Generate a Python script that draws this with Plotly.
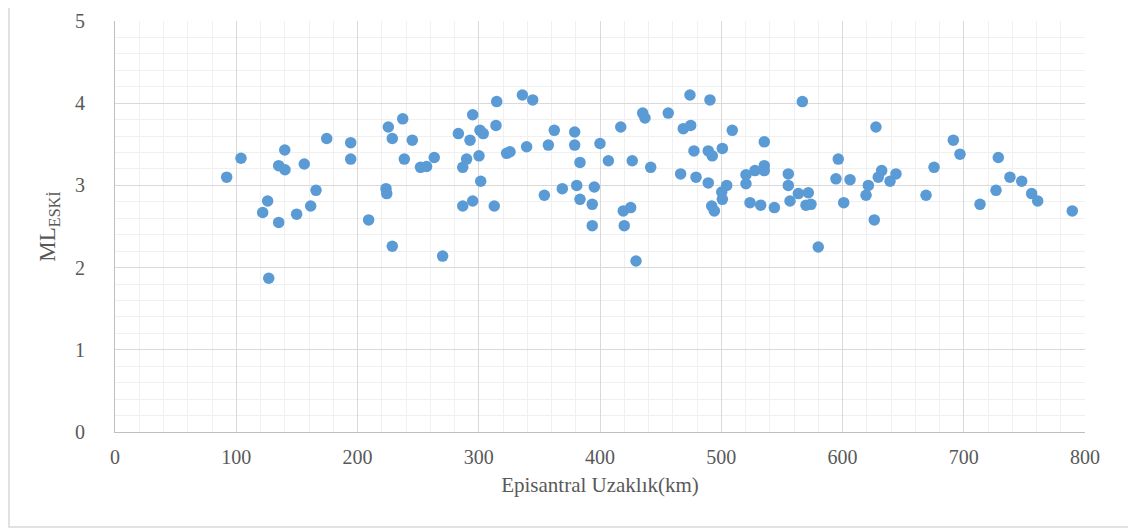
import plotly.graph_objects as go

# Epicentral distance (km) and ML_ESKİ values
distance_km = [
    92.1, 103.9, 140.0, 135.0, 140.2, 156.1, 174.6, 194.4, 194.4, 165.8, 125.9, 121.8, 135.0,
    149.8, 161.4, 209.2, 126.8,
    225.4, 237.3, 228.7, 245.2, 223.5, 224.1, 238.6, 252.0, 257.0, 263.3, 228.7, 270.2, 283.2,
    295.0, 292.8, 301.0, 303.7, 314.8, 314.2, 290.0, 286.8, 300.2, 301.6, 286.8, 295.0, 312.8,
    336.0, 344.5, 325.8, 323.0, 339.5, 362.3, 357.4, 379.1, 379.1, 383.5, 354.1, 368.9, 380.8,
    395.3, 383.5, 393.6, 393.6, 400.0, 406.9, 417.1, 426.6, 441.8, 435.2, 437.1, 456.3, 419.2,
    425.3, 420.0, 429.7,
    474.2, 490.7, 468.7, 474.8, 509.1, 477.5, 489.3, 492.6, 500.9, 466.5, 479.2, 489.3, 504.5,
    500.4, 500.9, 492.1, 494.3, 535.5, 520.4, 520.4, 527.8, 535.5, 535.5, 523.7, 532.5, 543.8,
    566.9, 555.3, 555.3, 556.7, 563.6, 571.8, 569.9, 574.0, 580.0, 596.5, 594.6, 606.2, 601.0,
    627.6, 632.3, 629.5, 621.3, 619.4, 639.2, 644.1, 626.2, 668.9, 675.5, 691.4, 696.9, 728.5,
    726.6, 713.4, 738.1, 747.8, 756.0, 761.0, 789.5,
]
ml_eski = [
    3.10, 3.33, 3.43, 3.24, 3.19, 3.26, 3.57, 3.52, 3.32, 2.94, 2.81, 2.67, 2.55,
    2.65, 2.75, 2.58, 1.87,
    3.71, 3.81, 3.57, 3.55, 2.96, 2.90, 3.32, 3.22, 3.23, 3.34, 2.26, 2.14, 3.63,
    3.86, 3.55, 3.67, 3.63, 4.02, 3.73, 3.32, 3.22, 3.36, 3.05, 2.75, 2.81, 2.75,
    4.10, 4.04, 3.41, 3.39, 3.47, 3.67, 3.49, 3.65, 3.49, 3.28, 2.88, 2.96, 3.00,
    2.98, 2.83, 2.77, 2.51, 3.51, 3.30, 3.71, 3.30, 3.22, 3.88, 3.82, 3.88, 2.69,
    2.73, 2.51, 2.08,
    4.10, 4.04, 3.69, 3.73, 3.67, 3.42, 3.42, 3.36, 3.45, 3.14, 3.10, 3.03, 3.00,
    2.92, 2.83, 2.75, 2.69, 3.53, 3.13, 3.02, 3.18, 3.24, 3.18, 2.79, 2.76, 2.73,
    4.02, 3.14, 3.00, 2.81, 2.90, 2.91, 2.76, 2.77, 2.25, 3.32, 3.08, 3.07, 2.79,
    3.71, 3.18, 3.10, 3.00, 2.88, 3.05, 3.14, 2.58, 2.88, 3.22, 3.55, 3.38, 3.34,
    2.94, 2.77, 3.10, 3.05, 2.90, 2.81, 2.69,
]

x_ticks = [0, 100, 200, 300, 400, 500, 600, 700, 800]
y_ticks = [0, 1, 2, 3, 4, 5]

FONT = "Liberation Serif"
TEXT = "#595959"
MAJOR = "#D9D9D9"
MINOR = "#F0F0F0"

fig = go.Figure()
fig.add_trace(go.Scatter(
    x=distance_km, y=ml_eski, mode="markers",
    marker=dict(color="#5B9BD5", size=11.5, line=dict(width=0)),
    showlegend=False, hoverinfo="x+y",
))

# the page body adds an 8px offset, so the figure is sized to fit the window
fig.update_layout(
    width=1128, height=523,
    margin=dict(l=107, r=51, t=13, b=99, autoexpand=False),
    paper_bgcolor="white", plot_bgcolor="white",
    font=dict(family=FONT, color=TEXT, size=20),
    shapes=[dict(type="rect", xref="paper", yref="paper",
                 x0=-0.1093, x1=1.0485, y0=-0.2311, y1=1.1,
                 line=dict(color="#D9D9D9", width=1.5), layer="below")],
)
fig.update_xaxes(
    range=[0, 800], tickvals=x_ticks, ticktext=[str(v) for v in x_ticks],
    automargin=False,
    showgrid=True, gridcolor=MAJOR, gridwidth=1,
    minor=dict(dtick=20, showgrid=True, gridcolor=MINOR, gridwidth=1),
    showline=True, linecolor="#BFBFBF", linewidth=1, mirror=False,
    zeroline=False, ticks="", ticklabelstandoff=7,
    tickfont=dict(family=FONT, size=20, color=TEXT),
    title=dict(text="Episantral Uzaklık(km)", font=dict(family=FONT, size=21, color=TEXT), standoff=10),
)
fig.update_yaxes(
    range=[0, 5], tickvals=y_ticks, ticktext=[str(v) for v in y_ticks],
    automargin=False,
    showgrid=True, gridcolor=MAJOR, gridwidth=1,
    minor=dict(dtick=0.2, showgrid=True, gridcolor=MINOR, gridwidth=1),
    showline=True, linecolor="#BFBFBF", linewidth=1,
    zeroline=False, ticks="", ticklabelstandoff=25,
    tickfont=dict(family=FONT, size=20, color=TEXT),
    title=dict(text="ML<sub>ESKİ</sub>", font=dict(family=FONT, size=23, color=TEXT), standoff=12),
)

fig.write_html("out.html")
